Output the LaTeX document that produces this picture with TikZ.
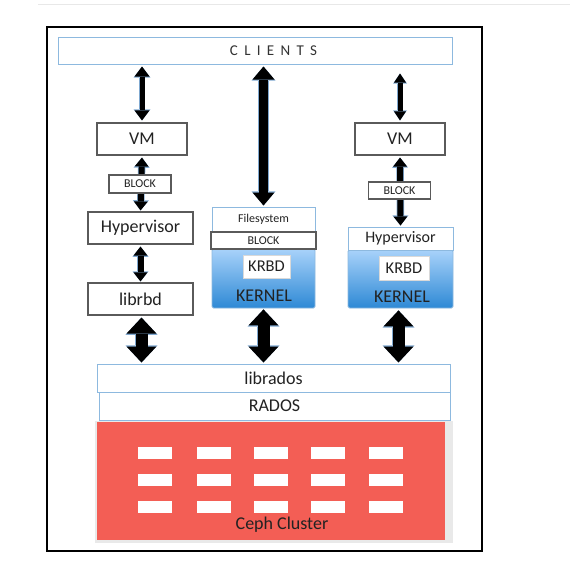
\documentclass[tikz,border=0pt]{standalone}
\usepackage{fontspec}
\setmainfont{Carlito}
\usetikzlibrary{arrows.meta}
\definecolor{glow}{HTML}{7FA8D0}
\definecolor{lblue}{HTML}{8DB9DF}
\definecolor{boxgray}{HTML}{5A5A5A}
\definecolor{txt}{HTML}{222222}
\definecolor{kT}{HTML}{A8D2FA}
\definecolor{kB}{HTML}{2E89D5}
\definecolor{cephred}{HTML}{F35E55}
\definecolor{shadowgray}{HTML}{E9E9E9}
\pgfdeclarelayer{back}\pgfdeclarelayer{bg}\pgfsetlayers{back,bg,main}
\newcommand\lsp{\hspace{6.3pt}}
\tikzset{
  graybox/.style={draw=boxgray, line width=1.1pt, fill=white, inner sep=0pt, text=txt},
  bluebox/.style={draw=lblue, line width=1pt, fill=white, inner sep=0pt, text=txt},
  kern/.style={draw=lblue, line width=0.8pt, top color=kT, bottom color=kB, inner sep=0pt, rounded corners=1.5pt},
  lbl/.style={inner sep=0pt, text=txt},
  dbl/.style n args={3}{draw=black, line width=#1pt,
    arrows={Triangle[length=#3pt,width=#2pt,line width=0pt]-Triangle[length=#3pt,width=#2pt,line width=0pt]},
    preaction={draw=glow, line width=#1pt+1.4pt,
    arrows={Triangle[length=#3pt+1.2pt,width=#2pt+2pt,line width=0pt]-Triangle[length=#3pt+1.2pt,width=#2pt+2pt,line width=0pt]}}}
}
\begin{document}
\begin{tikzpicture}[x=1pt,y=-1pt]
\useasboundingbox (0,0) rectangle (570,570);
\begin{pgfonlayer}{back}
\fill[white] (0,0) rectangle (570,570);
\draw[gray!18, line width=0.8pt] (38,4) -- (570,4);
\end{pgfonlayer}
% outer frame
\draw[black, line width=2pt] (47,27) rectangle (482,551);

% top
\node[bluebox, minimum width=394pt, minimum height=27pt] (clients) at (255,50.5) {};
\node[lbl, font=\fontsize{15}{15}\selectfont, text=black!80] (clientsT) at (273.5,50.5) {C\lsp L\lsp I\lsp E\lsp N\lsp T\lsp S};

% left column
\node[graybox, minimum width=90pt, minimum height=32pt, font=\fontsize{18}{18}\selectfont] (vmL) at (142,139) {VM};
\node[graybox, minimum width=62pt, minimum height=18pt, font=\fontsize{12}{12}\selectfont] (blockL) at (140,184) {BLOCK};
\node[graybox, minimum width=105pt, minimum height=32pt, font=\fontsize{18}{18}\selectfont] (hypL) at (140.5,228) {Hypervisor};
\node[graybox, minimum width=105pt, minimum height=32pt, font=\fontsize{18}{18}\selectfont] (librbd) at (140.5,299) {librbd};

% middle column
\node[kern, minimum width=103pt, minimum height=59pt] (kernM) at (263.5,278.5) {};
\node[bluebox, minimum width=103pt, minimum height=25pt, font=\fontsize{12}{12}\selectfont] (fs) at (263.5,219.5) {Filesystem};
\node[graybox, minimum width=105pt, minimum height=17pt, font=\fontsize{12}{12}\selectfont] (blockM) at (263.5,240.5) {BLOCK};
\node[graybox, draw=white!85!black, line width=0.6pt, minimum width=47pt, minimum height=23pt, font=\fontsize{16.5}{16.5}\selectfont] (krbdM) at (266.5,266.5) {KRBD};
\node[lbl, font=\fontsize{18}{18}\selectfont] (kernMT) at (264,296) {KERNEL};

% right column
\node[graybox, minimum width=90pt, minimum height=32pt, font=\fontsize{18}{18}\selectfont] (vmR) at (400,139) {VM};
\node[graybox, minimum width=62pt, minimum height=17pt, font=\fontsize{12}{12}\selectfont] (blockR) at (399.5,190.5) {BLOCK};
\node[kern, minimum width=105pt, minimum height=58pt] (kernR) at (400.5,279) {};
\node[bluebox, minimum width=105pt, minimum height=23pt, font=\fontsize{16}{16}\selectfont] (hypR) at (400.5,238.5) {Hypervisor};
\node[graybox, draw=white!85!black, line width=0.6pt, minimum width=50pt, minimum height=24pt, font=\fontsize{16.5}{16.5}\selectfont] (krbdR) at (404,268) {KRBD};
\node[lbl, font=\fontsize{18}{18}\selectfont] (kernRT) at (402,297) {KERNEL};

% bottom
\node[bluebox, minimum width=353pt, minimum height=28pt, font=\fontsize{18}{18}\selectfont] (librados) at (273.5,378) {librados};
\node[bluebox, minimum width=351pt, minimum height=28pt, font=\fontsize{18}{18}\selectfont] (rados) at (274.5,406) {RADOS};
\fill[shadowgray] (95,421) rectangle (453,543);
\node[fill=cephred, inner sep=0pt, minimum width=348pt, minimum height=118pt] (ceph) at (271,481) {};
\foreach \cx in {155,213.5,270.5,327.5,386}
  \foreach \cy in {453,480,507}
    \fill[white] (\cx-17,\cy-6) rectangle (\cx+17,\cy+6);
\node[lbl, font=\fontsize{18}{18}\selectfont] (cephT) at (282,525) {Ceph Cluster};

% arrows
\begin{pgfonlayer}{bg}
\draw[dbl={5}{15}{10}, shorten <=2pt, shorten >=2pt] (clients.south -| vmL.north) -- (vmL.north);
\draw[dbl={6}{14}{9}, shorten <=2pt, shorten >=1pt] (vmL.south) -- (hypL.north);
\draw[dbl={6}{14}{9}, shorten <=2pt, shorten >=1pt] (hypL.south) -- (librbd.north);
\draw[dbl={12}{30}{16}, shorten <=2pt, shorten >=1pt] ([xshift=1pt]librbd.south) -- ([xshift=1pt]librbd.south |- librados.north);
\draw[dbl={9}{22}{13}, shorten <=2pt, shorten >=1pt] (clients.south -| fs.north) -- (fs.north);
\draw[dbl={12}{30}{16}, shorten <=1pt, shorten >=1pt] (kernM.south) -- (kernM.south |- librados.north);
\draw[dbl={5}{12}{9}, shorten <=9pt, shorten >=2pt] (clients.south -| vmR.north) -- (vmR.north);
\draw[dbl={6}{14}{9}, shorten <=2pt, shorten >=1pt] (vmR.south) -- (hypR.north);
\draw[dbl={12}{30}{16}, shorten <=2pt, shorten >=1pt] ([xshift=-2pt]kernR.south) -- ([xshift=-2pt]kernR.south |- librados.north);
\end{pgfonlayer}
\end{tikzpicture}
\end{document}
